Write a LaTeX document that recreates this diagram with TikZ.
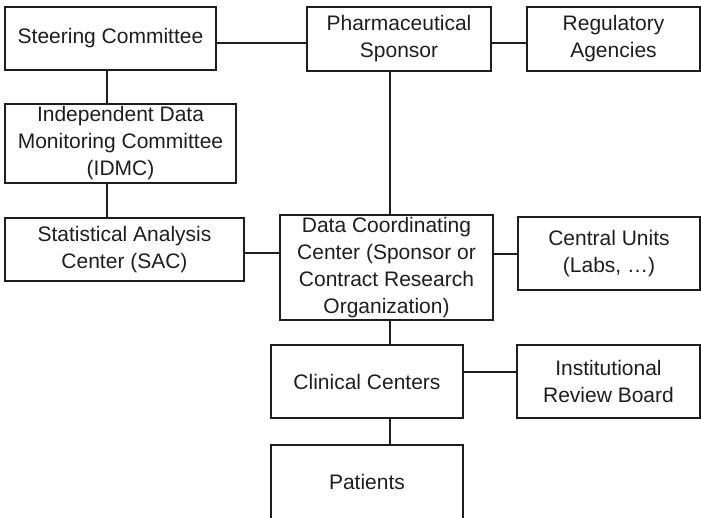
\documentclass[tikz,border=0pt]{standalone}
\usepackage{fontspec}
\setmainfont{Liberation Sans}
\definecolor{ink}{HTML}{1E1E1E}
\begin{document}
\begin{tikzpicture}[x=1pt,y=-1pt,
  box/.style={draw=ink,line width=1.4pt,rectangle,inner sep=0pt,align=center,
    text=ink,font=\fontsize{21}{27}\selectfont},
  link/.style={draw=ink,line width=1.9pt}]
\useasboundingbox (0,0) rectangle (701,518);
\node[box,minimum width=211pt,minimum height=63pt] (steer) at (110.5,38.5) {Steering Committee};
\node[box,minimum width=184pt,minimum height=64pt] (pharma) at (399,39) {Pharmaceutical\\Sponsor};
\node[box,minimum width=173pt,minimum height=64pt] (reg) at (613.5,39) {Regulatory\\Agencies};
\node[box,minimum width=231pt,minimum height=79pt] (idmc) at (120.5,143.5) {Independent Data\\Monitoring Committee\\(IDMC)};
\node[box,minimum width=239pt,minimum height=63pt] (sac) at (124.5,249.5) {Statistical Analysis\\Center (SAC)};
\node[box,minimum width=213pt,minimum height=105pt] (dcc) at (386.5,267.5) {Data Coordinating\\Center (Sponsor or\\Contract Research\\Organization)};
\node[box,minimum width=182pt,minimum height=73pt] (cu) at (609,253.5) {Central Units\\(Labs, \dots)};
\node[box,minimum width=192pt,minimum height=73pt] (cc) at (367,381.5) {Clinical Centers};
\node[box,minimum width=183pt,minimum height=73pt] (irb) at (608.5,381.5) {Institutional\\Review Board};
\node[box,minimum width=192pt,minimum height=74pt] (pat) at (367,482) {Patients};
\draw[link] (steer.east |- 0,43) -- (pharma.west |- 0,43);
\draw[link] (pharma.east |- 0,43) -- (reg.west |- 0,43);
\draw[link] (pharma.south -| 390,0) -- (dcc.north -| 390,0);
\draw[link] (steer.south -| 107,0) -- (idmc.north -| 107,0);
\draw[link] (idmc.south -| 107,0) -- (sac.north -| 107,0);
\draw[link] (sac.east |- 0,253) -- (dcc.west |- 0,253);
\draw[link] (dcc.east |- 0,254) -- (cu.west |- 0,254);
\draw[link] (dcc.south -| 390,0) -- (cc.north -| 390,0);
\draw[link] (cc.east |- 0,372) -- (irb.west |- 0,372);
\draw[link] (cc.south -| 390,0) -- (pat.north -| 390,0);
\end{tikzpicture}
\end{document}
